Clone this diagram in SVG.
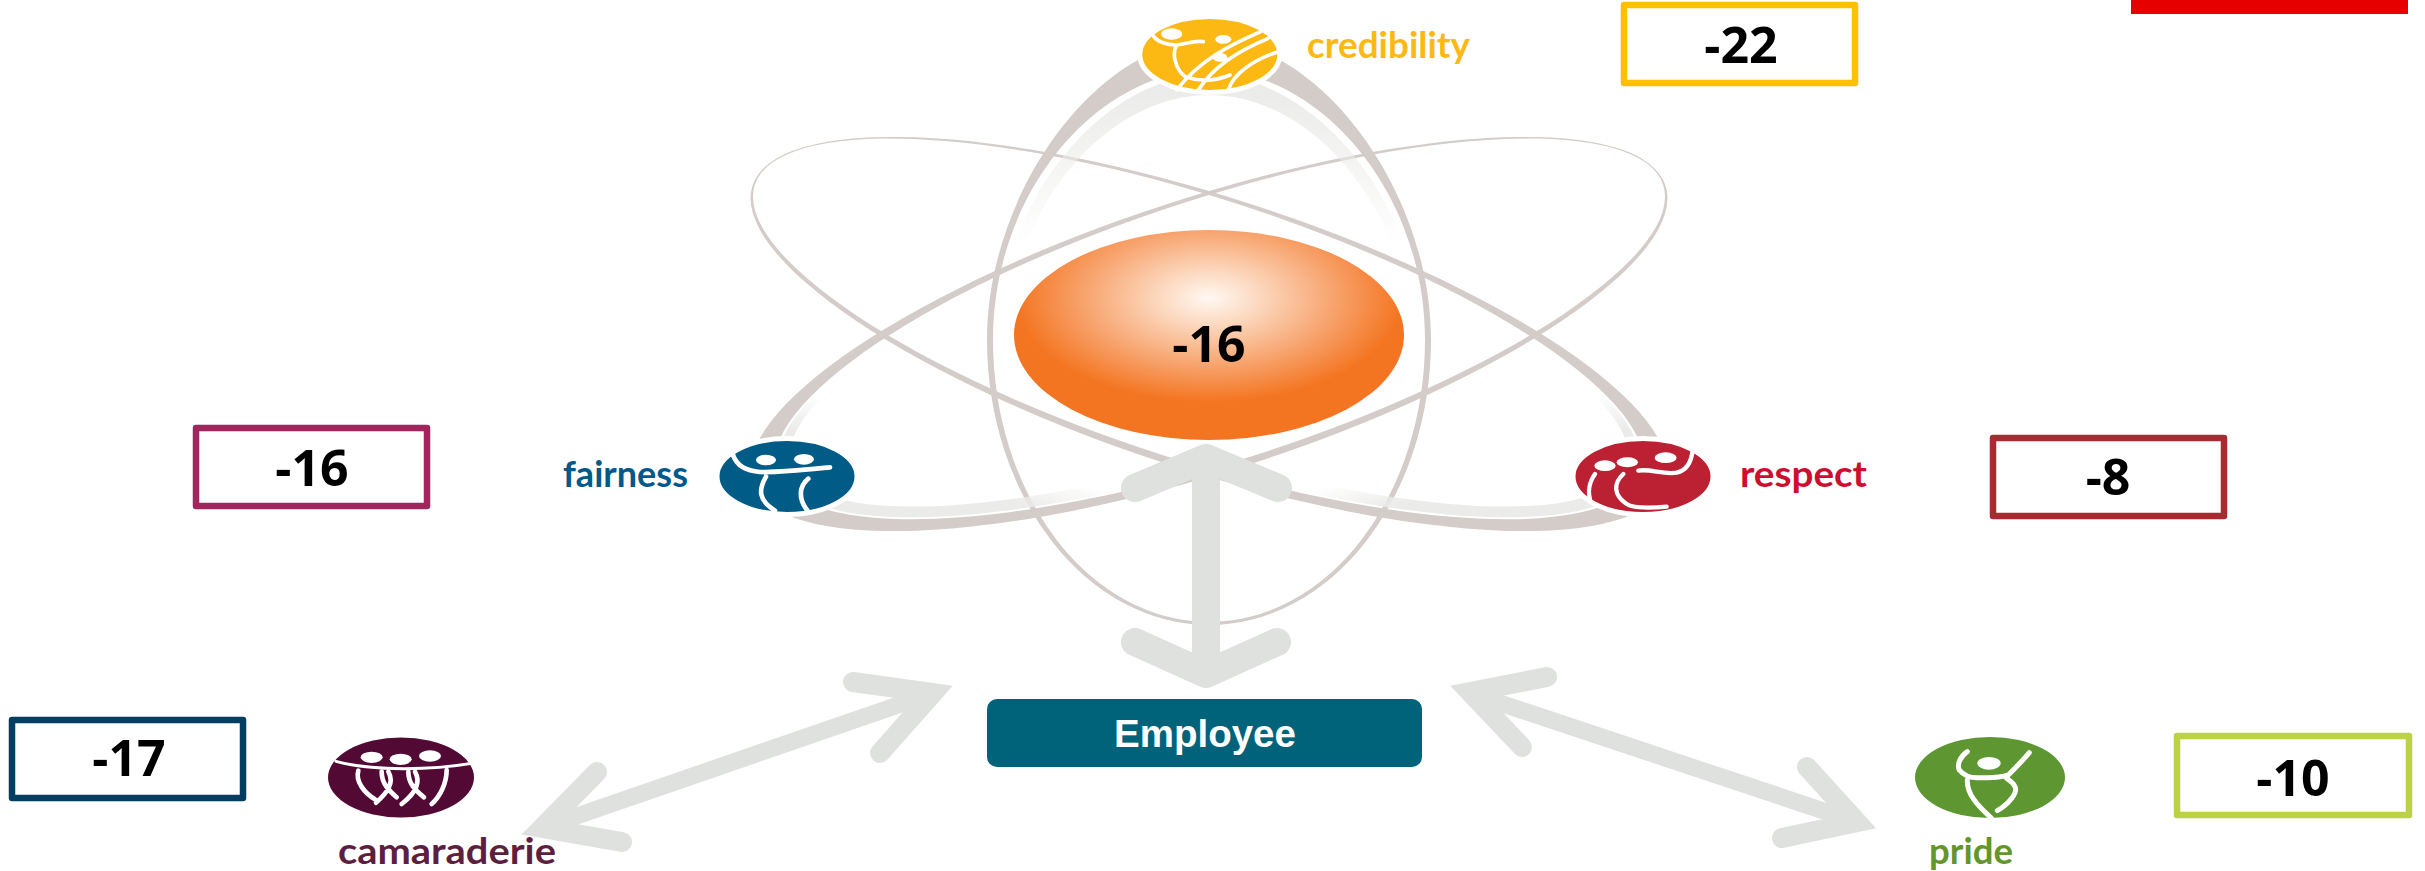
<svg xmlns="http://www.w3.org/2000/svg" width="2425" height="871" viewBox="0 0 2425 871">
<style>
text{font-family:"Lato","Liberation Sans",sans-serif;font-weight:700}
.num{font-family:"Open Sans","Liberation Sans",sans-serif;font-size:50px;text-anchor:middle;fill:#000}
.box{fill:#fff;stroke-width:6.5;stroke-linejoin:round}
.lab{font-size:36px}
.arr{fill:none;stroke:#dfe1de;stroke-linecap:round;stroke-linejoin:round}
.arm{fill:none;stroke:#dfe1de;stroke-linecap:round;stroke-linejoin:miter;stroke-miterlimit:6}
.g{fill:none;stroke:#fff;stroke-linecap:round;stroke-linejoin:round}
.h{fill:#fff}
.band{fill:#d3ccc8;fill-rule:evenodd}
.ic{stroke:#fff;stroke-width:5}
</style>
<defs>
<path id="orbit" d="M-480 0A480 136.500 0 1 0 480 0A480 136.500 0 1 0 -480 0ZM-454 -1.500A466 131 0 1 0 478 -1.500A466 131 0 1 0 -454 -1.500Z"/>
<clipPath id="hlA"><path clip-rule="evenodd" transform="translate(1209 334) rotate(-18)" d="M-451 -1.500A463 129 0 1 0 475 -1.500A463 129 0 1 0 -451 -1.500ZM-438 -4A456 121 0 1 0 474 -4A456 121 0 1 0 -438 -4Z"/></clipPath>
<clipPath id="hlB"><path clip-rule="evenodd" transform="translate(1209 334) scale(-1 1) rotate(-18)" d="M-451 -1.500A463 129 0 1 0 475 -1.500A463 129 0 1 0 -451 -1.500ZM-438 -4A456 121 0 1 0 474 -4A456 121 0 1 0 -438 -4Z"/></clipPath>
<clipPath id="hlV"><path clip-rule="evenodd" d="M997 345C997 200 1105 75 1209 75C1313 75 1421 200 1421 345ZM1007 350C1007 210 1105 95 1209 95C1313 95 1411 210 1411 350Z"/></clipPath>
<linearGradient id="gA" gradientUnits="userSpaceOnUse" x1="985" y1="450" x2="966" y2="507"><stop offset="0" stop-color="#ebebe9" stop-opacity="0"/><stop offset=".7" stop-color="#ebebe9"/></linearGradient>
<linearGradient id="gB" gradientUnits="userSpaceOnUse" x1="1433" y1="450" x2="1452" y2="507"><stop offset="0" stop-color="#ebebe9" stop-opacity="0"/><stop offset=".7" stop-color="#ebebe9"/></linearGradient>
<linearGradient id="gV" gradientUnits="userSpaceOnUse" x1="0" y1="90" x2="0" y2="245"><stop offset="0" stop-color="#ebebe9"/><stop offset="1" stop-color="#ebebe9" stop-opacity="0"/></linearGradient>
<radialGradient id="orb" gradientUnits="userSpaceOnUse" cx="0" cy="0" r="1" gradientTransform="translate(1209 298) scale(197 106)"><stop offset="0" stop-color="#fff8f2"/><stop offset=".25" stop-color="#fcd9c0"/><stop offset=".66" stop-color="#f7a068"/><stop offset=".98" stop-color="#f47521"/></radialGradient>
</defs>

<g id="atom">
<use href="#orbit" class="band" transform="translate(1209 334) rotate(-18)"/>
<use href="#orbit" class="band" transform="translate(1209 334) scale(-1 1) rotate(-18)"/>
<path class="band" d="M987 340C987 190 1100 40 1209 40C1318 40 1431 190 1431 340A222 285 0 0 1 987 340ZM993 340C993 190 1100 70 1209 70C1318 70 1425 190 1425 340A216 282 0 0 1 993 340Z"/>
<rect x="700" y="380" width="1020" height="180" fill="url(#gA)" clip-path="url(#hlA)"/>
<rect x="700" y="380" width="1020" height="180" fill="url(#gB)" clip-path="url(#hlB)"/>
<rect x="980" y="40" width="460" height="220" fill="url(#gV)" clip-path="url(#hlV)"/>
</g>

<g id="core">
<ellipse cx="1209" cy="335" rx="195" ry="105" fill="url(#orb)"/>
<text class="num" x="1209" y="362">-16</text>
</g>

<g id="connectors">
<path class="arr" stroke-width="28" d="M1206 674V458M1135 488L1206 458L1278 488M1135 642L1206 674L1277 642"/>
<path class="arr" stroke-width="17" d="M933 693L542 828"/>
<path class="arm" stroke-width="20" d="M853 682L933 693L880 753M597 772L542 828L622 842"/>
<path class="arr" stroke-width="17" d="M1470 693L1857 822"/>
<path class="arm" stroke-width="20" d="M1547 677L1470 692L1522 747M1807 767L1857 822L1782 838"/>
</g>

<g id="employee">
<rect x="987" y="699" width="435" height="68" rx="10" fill="#00637a"/>
<text x="1205" y="747" text-anchor="middle" style="font-family:'Liberation Sans',sans-serif;font-size:38.500px" fill="#fff">Employee</text>
</g>

<g id="credibility">
<ellipse class="ic" cx="1209.800" cy="54.500" rx="70" ry="38" fill="#fdb913"/>
<g transform="translate(1130 10) scale(.3333)">
<ellipse class="h" cx="125" cy="72" rx="32" ry="17"/><ellipse class="h" cx="280" cy="88" rx="24" ry="13"/><ellipse class="h" cx="270" cy="142" rx="22" ry="13"/>
<path class="g" stroke-width="11" d="M68 75C80 95 110 105 140 105C170 102 195 90 220 95M140 105C125 130 135 175 165 200C210 215 260 212 300 195M392 65C300 105 210 150 140 240M415 85C320 125 250 170 205 240M445 125C370 150 310 190 295 240"/>
</g>
<text class="lab" x="1307" y="58" fill="#fdb913" textLength="163" lengthAdjust="spacingAndGlyphs">credibility</text>
</g>

<g id="fairness">
<ellipse class="ic" cx="787" cy="476.500" rx="70" ry="38" fill="#005b86"/>
<g transform="translate(680 380) scale(.3333)">
<ellipse class="h" cx="258" cy="240" rx="30" ry="16"/><ellipse class="h" cx="372" cy="238" rx="30" ry="16"/>
<path class="g" stroke-width="14" d="M158 222C170 260 200 272 240 276C300 278 390 268 450 262M258 290C235 330 235 360 285 392M385 296C355 320 355 360 385 395"/>
</g>
<text class="lab" x="563" y="487" fill="#00598a" textLength="125" lengthAdjust="spacingAndGlyphs">fairness</text>
</g>

<g id="respect">
<ellipse class="ic" cx="1643" cy="476.500" rx="70" ry="38" fill="#bb2033"/>
<g transform="translate(1500 400) scale(.3333)">
<ellipse class="h" cx="315" cy="197" rx="32" ry="16"/><ellipse class="h" cx="382" cy="187" rx="32" ry="15"/><ellipse class="h" cx="497" cy="173" rx="33" ry="16"/>
<path class="g" stroke-width="13" d="M415 212C450 205 490 225 530 218C565 210 575 180 578 150M285 222C265 250 265 280 270 298M370 222C340 250 340 285 380 312C400 325 440 325 500 320"/>
</g>
<text class="lab" x="1740" y="487" fill="#cd0f2f" textLength="127" lengthAdjust="spacingAndGlyphs">respect</text>
</g>

<g id="camaraderie">
<ellipse cx="401" cy="777.500" rx="73" ry="40" fill="#520a35"/>
<g transform="translate(300 700) scale(.3333)">
<ellipse class="h" cx="215" cy="172" rx="33" ry="17"/><ellipse class="h" cx="302" cy="178" rx="33" ry="17"/><ellipse class="h" cx="390" cy="168" rx="33" ry="17"/>
<path class="g" stroke-width="9" d="M108 184C220 215 400 210 515 190"/>
<path class="g" stroke-width="14" d="M175 212C165 245 195 280 225 298M245 215C245 250 265 270 290 292M265 215C285 250 260 280 228 308M325 215C325 250 345 270 372 292M345 215C365 250 340 285 305 312M440 210C440 250 420 290 395 312"/>
</g>
<text class="lab" x="338" y="864" fill="#5e1f3f" textLength="218" lengthAdjust="spacingAndGlyphs">camaraderie</text>
</g>

<g id="pride">
<ellipse cx="1990" cy="777.500" rx="75" ry="40.500" fill="#5e9732"/>
<g transform="translate(1880 710) scale(.3333)">
<ellipse class="h" cx="327" cy="160" rx="35" ry="19"/>
<path class="g" stroke-width="15" d="M262 125C240 140 230 165 238 180C250 195 270 205 300 203C340 205 370 200 385 195C410 170 430 150 448 128M262 210C260 250 290 285 335 325M380 205C410 225 415 240 395 265C380 285 365 295 352 302"/>
</g>
<text class="lab" x="1929" y="864" fill="#64962d" textLength="84" lengthAdjust="spacingAndGlyphs">pride</text>
</g>

<g id="score-credibility"><rect class="box" x="1624" y="5" width="231" height="78" stroke="#ffc000"/><text class="num" x="1741" y="63">-22</text></g>
<g id="score-fairness"><rect class="box" x="196" y="428" width="231" height="78" stroke="#a0265d"/><text class="num" x="312" y="486">-16</text></g>
<g id="score-respect"><rect class="box" x="1993" y="438" width="231" height="78" stroke="#a82b32"/><text class="num" x="2108" y="495">-8</text></g>
<g id="score-camaraderie"><rect class="box" x="12" y="720" width="231" height="78" stroke="#033e61"/><text class="num" x="129" y="776">-17</text></g>
<g id="score-pride"><rect class="box" x="2177" y="736" width="232" height="79" stroke="#bcd144"/><text class="num" x="2293" y="796">-10</text></g>

<rect id="corner" x="2131" y="0" width="277" height="14" fill="#e60000"/>
</svg>
